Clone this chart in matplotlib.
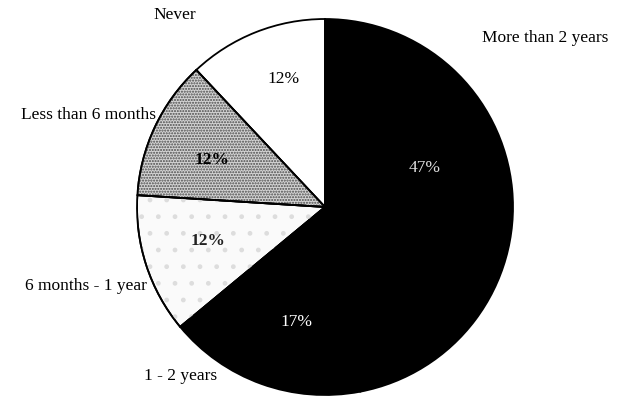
import matplotlib
import matplotlib.pyplot as plt
from matplotlib.patches import Wedge

matplotlib.use('Agg')

# data, in drawing order (counter-clockwise from 12 o'clock)
categories = ["Never", "Less than 6 months", "6 months - 1 year", "1 - 2 years", "More than 2 years"]
shares = [12, 12, 12, 17, 47]
pct_labels = ["12%", "12%", "12%", "17%", "47%"]

face = ["white", "#d4d4d4", "#fafafa", "black", "black"]
hatch = [None, "......", "."]
hatch_col = [None, "#4a4a4a", "#dddddd"]

# label positions in data units (pie radius = 1)
cat_pos = [(-0.80, 1.02, "center"), (-0.90, 0.49, "right"), (-0.95, -0.42, "right"),
           (-0.77, -0.90, "center"), (0.835, 0.90, "left")]
pct_pos = [(-0.22, 0.68), (-0.60, 0.25), (-0.62, -0.18), (-0.15, -0.61), (0.53, 0.21)]
pct_col = ["black", "black", "#222222", "white", "#dddddd"]
pct_weight = ["normal", "bold", "bold", "normal", "normal"]

fontsize = 12.5
plt.rcParams['font.family'] = ['Liberation Serif', 'DejaVu Serif']

fig = plt.figure(figsize=(6.19, 4.0), dpi=100)
ax = fig.add_axes([137/619, 5/400, 376/619, 376/400])

wedges, _ = ax.pie(shares, startangle=90, counterclock=True, colors=face,
                   wedgeprops=dict(edgecolor="black", linewidth=1.3))

# speckled texture on the grey slices
for w, h, hc in zip(wedges, hatch, hatch_col):
    if h is None:
        continue
    ov = Wedge(w.center, w.r, w.theta1, w.theta2, facecolor="none",
               edgecolor=hc, linewidth=0, hatch=h)
    ax.add_patch(ov)
    ax.add_patch(Wedge(w.center, w.r, w.theta1, w.theta2, facecolor="none",
                       edgecolor="black", linewidth=1.3))

for name, (x, y, ha) in zip(categories, cat_pos):
    ax.text(x, y, name, ha=ha, va="center", fontsize=fontsize, clip_on=False)

for lab, (x, y), c, fw in zip(pct_labels, pct_pos, pct_col, pct_weight):
    ax.text(x, y, lab, ha="center", va="center", fontsize=fontsize, color=c, fontweight=fw)

ax.set_xlim(-1, 1)
ax.set_ylim(-1, 1)
ax.set_aspect("equal")
ax.axis("off")

fig.savefig("out.png", dpi=100)
